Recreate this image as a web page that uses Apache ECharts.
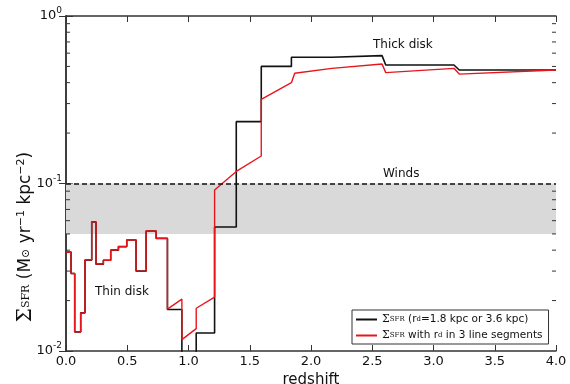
<!DOCTYPE html>
<html><head><meta charset="utf-8">
<script src="https://cdn.jsdelivr.net/npm/echarts@6/dist/echarts.min.js"></script>
<style>html,body{margin:0;padding:0;background:#fff}#c{width:570px;height:384px}</style>
</head><body><div id="c"></div>
<script>
// Data
var blackZ = [0,0.041,0.041,0.071,0.071,0.12,0.12,0.155,0.155,0.21,0.21,0.245,0.245,0.305,0.305,0.365,0.365,0.428,0.428,0.496,0.496,0.572,0.572,0.654,0.654,0.736,0.736,0.828,0.828,0.946,0.946,1.063,1.063,1.213,1.213,1.39,1.39,1.594,1.594,1.84,1.84,2.17,2.17,2.58,2.61,3.167,3.21,4.0];
var blackV = [0.039,0.039,0.029,0.029,0.013,0.013,0.0169,0.0169,0.0349,0.0349,0.059,0.059,0.033,0.033,0.0348,0.0348,0.040,0.040,0.042,0.042,0.046,0.046,0.030,0.030,0.052,0.052,0.047,0.047,0.0177,0.0177,0.008,0.008,0.0128,0.0128,0.055,0.055,0.234,0.234,0.50,0.50,0.567,0.567,0.58,0.58,0.51,0.51,0.476,0.476];
var redZ = [0,0.041,0.041,0.071,0.071,0.12,0.12,0.155,0.155,0.21,0.21,0.245,0.245,0.305,0.305,0.365,0.365,0.428,0.428,0.496,0.496,0.572,0.572,0.654,0.654,0.736,0.736,0.828,0.828,0.946,0.946,1.063,1.063,1.213,1.213,1.39,1.594,1.594,1.84,1.867,2.17,2.58,2.61,3.167,3.21,4.0];
var redV = [0.039,0.039,0.029,0.029,0.013,0.013,0.0169,0.0169,0.0349,0.0349,0.059,0.059,0.033,0.033,0.0348,0.0348,0.040,0.040,0.042,0.042,0.046,0.046,0.030,0.030,0.052,0.052,0.047,0.047,0.0178,0.0204,0.0117,0.0136,0.018,0.021,0.0915,0.118,0.146,0.318,0.40,0.455,0.487,0.517,0.459,0.487,0.45,0.476];
var windsBand = [0.05, 0.1];
var seriesNames = ['{g|Σ}{sub|SFR} (r{sub|d}=1.8 kpc or 3.6 kpc)', '{g|Σ}{sub|SFR} with r{sub|d} in 3 line segments'];

function zip(a,b){return a.map(function(x,i){return [x,b[i]];});}
var FONT = 'DejaVu Sans';
var chart = echarts.init(document.getElementById('c'));
var axisCol = '#333';
var option = {
  animation:false,
  grid:{left:66,right:14,top:16,bottom:33,containLabel:false,outerBoundsMode:'none'},
  xAxis:[{
    type:'value',min:0,max:4,interval:0.5,
    axisLine:{lineStyle:{color:axisCol,width:1.5}},
    axisTick:{inside:true,length:6,lineStyle:{color:axisCol}},
    splitLine:{show:false},
    axisLabel:{color:'#111',fontFamily:FONT,fontSize:13,margin:4,formatter:function(v){return v.toFixed(1);}},
    name:'redshift',nameLocation:'middle',nameGap:20,
    nameTextStyle:{color:'#111',fontFamily:FONT,fontSize:15}
  },{
    type:'value',min:0,max:4,interval:0.5,position:'top',
    axisLine:{lineStyle:{color:axisCol,width:1.5}},
    axisTick:{inside:true,length:6,lineStyle:{color:axisCol}},
    axisLabel:{show:false},splitLine:{show:false}
  }],
  yAxis:[{
    type:'log',logBase:10,min:0.01,max:1,
    axisLine:{show:true,lineStyle:{color:axisCol,width:1.5}},
    axisTick:{inside:true,length:7,lineStyle:{color:axisCol}},
    splitLine:{show:false},
    axisLabel:{margin:4,formatter:function(v){return '{b|10}{s|'+Math.round(Math.log10(v))+'}';},
      rich:{b:{fontFamily:FONT,fontSize:13,color:'#111'},s:{fontFamily:FONT,fontSize:9,color:'#111',padding:[0,0,10,0]}}}
  },{
    type:'log',logBase:10,min:0.01,max:1,position:'right',
    axisLine:{show:true,lineStyle:{color:axisCol,width:1.5}},
    axisTick:{inside:true,length:7,lineStyle:{color:axisCol}},
    axisLabel:{show:false},splitLine:{show:false}
  }],
  legend:{
    left:352,top:310,orient:'vertical',
    borderColor:'#333',borderWidth:1,borderRadius:0,backgroundColor:'#fff',
    padding:[4,6,3,4],itemGap:5,itemWidth:21,itemHeight:2,icon:'rect',
    data:[seriesNames[0],seriesNames[1]],
    textStyle:{fontFamily:FONT,fontSize:10.5,color:'#111',
      rich:{g:{fontFamily:'DejaVu Serif',fontSize:11,color:'#111'},
            sub:{fontFamily:'DejaVu Serif',fontSize:7,color:'#111'}}}
  },
  series:[{
    name:seriesNames[0],type:'line',symbol:'none',data:zip(blackZ,blackV),
    lineStyle:{color:'#111',width:1.6},itemStyle:{color:'#111'},z:3,
    markArea:{silent:true,itemStyle:{color:'#d9d9d9'},data:[[{yAxis:windsBand[0],xAxis:0},{yAxis:windsBand[1],xAxis:4}]]},
    markLine:{silent:true,symbol:'none',label:{show:false},lineStyle:{color:'#111',type:[5,3],width:1.5},data:[{yAxis:windsBand[1]}]}
  },{
    name:seriesNames[1],type:'line',symbol:'none',data:zip(redZ,redV),
    lineStyle:{color:'#e8161b',width:1.4},itemStyle:{color:'#e8161b'},z:4
  }]
};
chart.setOption(option);

// minor log ticks + annotations
var g = [];
var gl = 66, gr = 556;
for (var k=-2;k<0;k++){
  for (var m=2;m<=9;m++){
    var v = m*Math.pow(10,k);
    var py = chart.convertToPixel({yAxisIndex:0}, v);
    g.push({type:'line',shape:{x1:gl,y1:py,x2:gl+4,y2:py},style:{stroke:axisCol,lineWidth:1},z:10});
    g.push({type:'line',shape:{x1:gr-4,y1:py,x2:gr,y2:py},style:{stroke:axisCol,lineWidth:1},z:10});
  }
}
g.push({type:'text',left:95,top:286,style:{text:'Thin disk',font:'12px "DejaVu Sans"',fill:'#111'},z:10});
g.push({type:'text',left:373,top:39,style:{text:'Thick disk',font:'12px "DejaVu Sans"',fill:'#111'},z:10});
g.push({type:'text',left:383,top:168,style:{text:'Winds',font:'12px "DejaVu Sans"',fill:'#111'},z:10});
g.push({type:'text',x:26,y:237,rotation:Math.PI/2,
  style:{text:'{g|Σ}{sub|SFR} (M{sub|⊙} yr{sup|−1} kpc{sup|−2})',align:'center',verticalAlign:'middle',
    font:'17px "DejaVu Sans"',fill:'#111',
    rich:{g:{fontFamily:'DejaVu Serif',fontSize:20,fill:'#111'},
          sub:{fontFamily:'DejaVu Serif',fontSize:11,fill:'#111'},
          sup:{fontFamily:'DejaVu Sans',fontSize:11,fill:'#111',padding:[0,0,10,0]}}},z:10});
chart.setOption({graphic:g});
</script></body></html>
